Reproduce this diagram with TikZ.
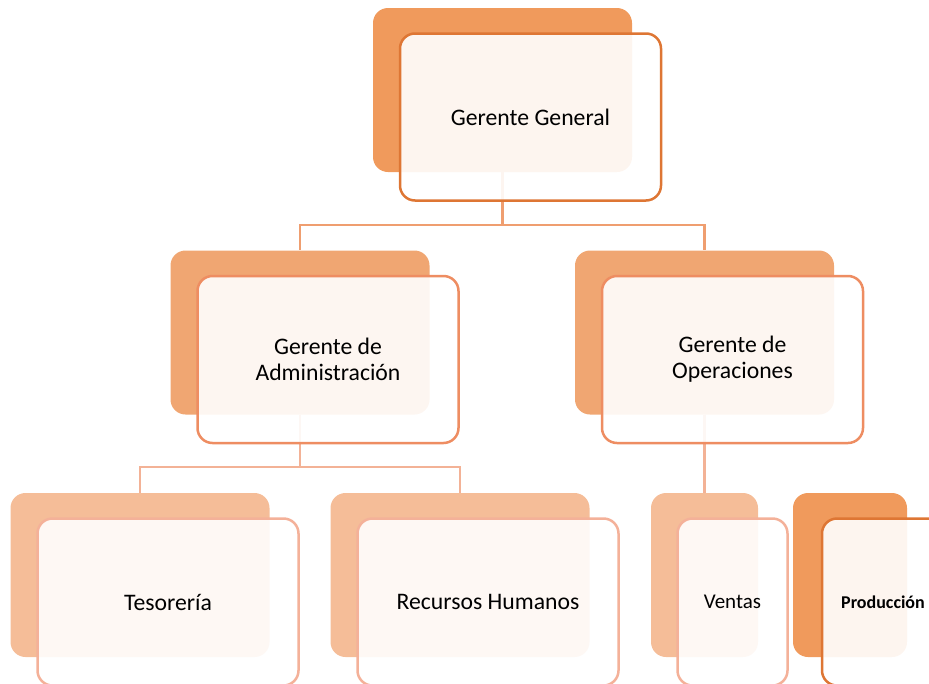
\documentclass[tikz,border=0pt]{standalone}
\usepackage{fontspec}
\setmainfont{Carlito}
\definecolor{fondoA}{HTML}{F09A5C}
\definecolor{fondoB}{HTML}{F0A672}
\definecolor{fondoC}{HTML}{F5BD98}
\definecolor{bordeA}{HTML}{DE7634}
\definecolor{bordeB}{HTML}{EE8D62}
\definecolor{bordeC}{HTML}{F4B199}
\definecolor{lineaA}{HTML}{EF9E70}
\definecolor{lineaB}{HTML}{F3B296}
\begin{document}
\begin{tikzpicture}[x=1pt, y=-1pt,
		back/.style={rounded corners=15pt, fill=#1, minimum width=259pt, minimum height=164pt, inner sep=0pt},
		front/.style={rounded corners=15pt, draw=#1, line width=2.5pt, fill=white, fill opacity=0.9, text opacity=1,
			minimum width=261pt, minimum height=167pt, inner sep=0pt, align=center, font=\fontsize{23.7}{26}\selectfont},
		link/.style={line width=2.5pt, draw=#1}
		]
	\clip (0,0) rectangle (929,683);
	% fondos
	\node [back=fondoA] (gg-b) at (502.5,90) {};
	\node [back=fondoB] (ga-b) at (300,332.5) {};
	\node [back=fondoB] (go-b) at (704.5,332.5) {};
	\node [back=fondoC] (te-b) at (140,575) {};
	\node [back=fondoC] (rh-b) at (460,575) {};
	\node [back=fondoC, minimum width=107pt] (ve-b) at (704.5,575) {};
	\node [back=fondoA, minimum width=114pt] (pr-b) at (850,575) {};
	% conectores
	\coordinate (bus1) at (0,225);
	\coordinate (bus2) at (0,467);
	\draw [link=lineaA] (gg-b.south) -- (gg-b.south |- bus1) -| (ga-b.north);
	\draw [link=lineaA] (gg-b.south |- bus1) -| (go-b.north);
	\draw [link=lineaB] (ga-b.south) -- (ga-b.south |- bus2) -| (te-b.north);
	\draw [link=lineaB] (ga-b.south |- bus2) -| (rh-b.north);
	\draw [link=lineaB] (go-b.south) -- (ve-b.north);
	% cajas
	\node [front=bordeA] (gg) at ([shift={(28,27)}]gg-b) {Gerente General};
	\node [front=bordeB] (ga) at ([shift={(28,27)}]ga-b) {Gerente de\\Administración};
	\node [front=bordeB] (go) at ([shift={(28,27)}]go-b) {Gerente de\\Operaciones};
	\node [front=bordeC] (te) at ([shift={(28,27)}]te-b) {Tesorería};
	\node [front=bordeC] (rh) at ([shift={(28,27)}]rh-b) {Recursos Humanos};
	\node [front=bordeC, minimum width=110pt, font=\fontsize{21}{24}\selectfont] (ve) at ([shift={(28,27)}]ve-b) {Ventas};
	\node [front=bordeA, minimum width=122pt, font=\fontsize{18}{22}\selectfont\bfseries] (pr) at ([shift={(33,27)}]pr-b) {Producción};
\end{tikzpicture}
\end{document}
